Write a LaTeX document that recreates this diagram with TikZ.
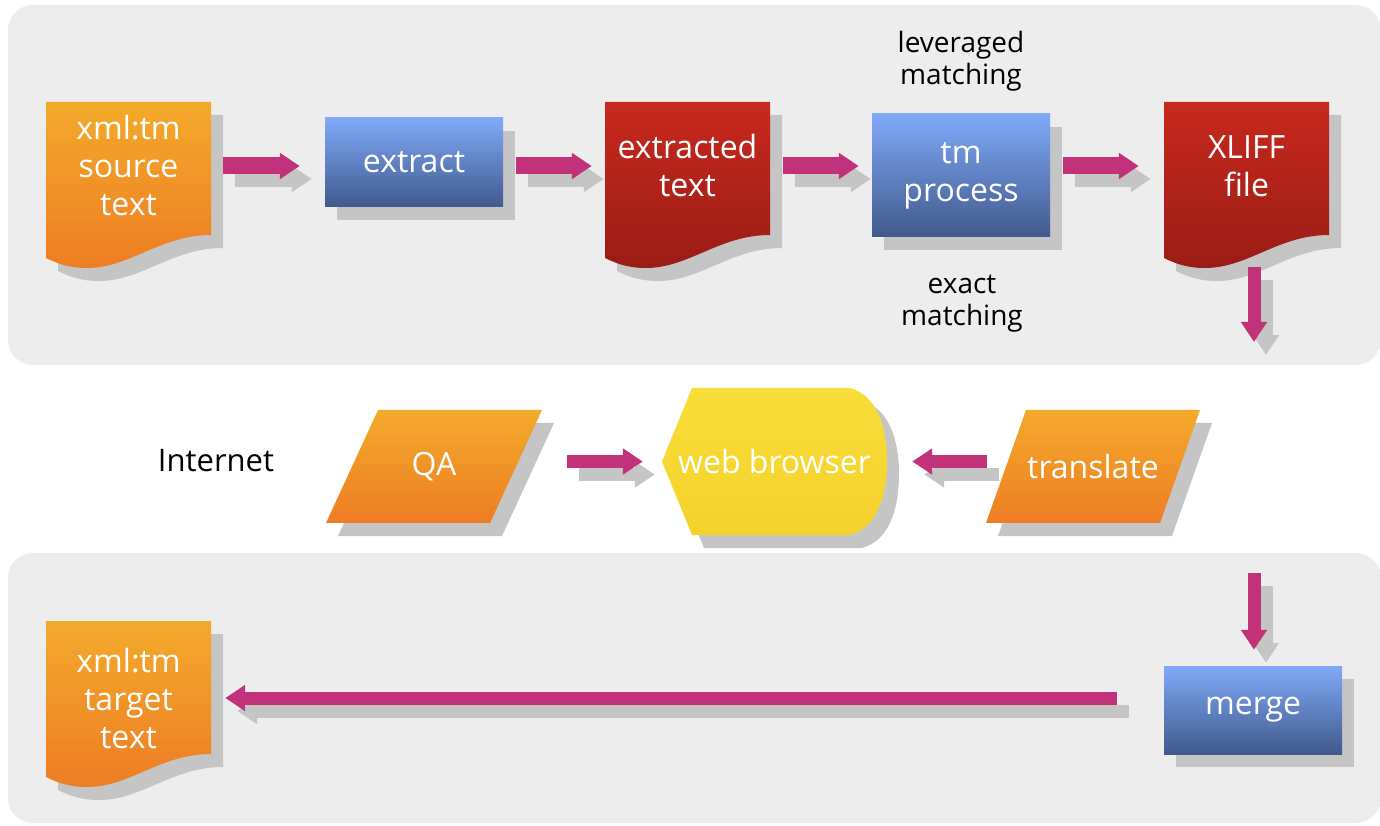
\documentclass[tikz,border=0pt]{standalone}
\usepackage{fontspec}
\setmainfont{Open Sans}
\usepackage{tikz}
\usetikzlibrary{shadows, arrows.meta}

\definecolor{panelgray}{HTML}{EDEDED}
\definecolor{shadowgray}{HTML}{C5C5C5}
\definecolor{flowpink}{HTML}{C2327A}
\definecolor{orangetop}{HTML}{F3AA2B}
\definecolor{orangebot}{HTML}{EE7D23}
\definecolor{redtop}{HTML}{C8291E}
\definecolor{redbot}{HTML}{9A1C15}
\definecolor{bluetop}{HTML}{80AAF9}
\definecolor{bluebot}{HTML}{40598C}
\definecolor{browseryellow}{HTML}{F5D12C}

\tikzset{
  shadowed/.style={drop shadow={shadow xshift=12pt, shadow yshift=-13pt, fill=shadowgray, opacity=1}},
  orangefill/.style={top color=orangetop, bottom color=orangebot},
  redfill/.style={top color=redtop, bottom color=redbot},
  whitetext/.style={text=white, font=\fontsize{32}{38}\selectfont, align=center},
  notetext/.style={font=\fontsize{28}{32}\selectfont, align=center},
  bluebox/.style={shadowed, top color=bluetop, bottom color=bluebot, whitetext, minimum width=178pt, inner sep=0pt},
  flow/.style={draw=flowpink, line width=#1, -{Triangle[length=20pt,width=25pt]},
    preaction={draw=shadowgray, line width=#1, -{Triangle[length=20pt,width=25pt]},
      transform canvas={shift={(12pt,-13pt)}}}},
  flow/.default=17pt,
  slimflow/.style={flow=13pt},
}

% document with a wavy lower edge: name, left x, top y, centre y, fill, text
\newcommand{\docnode}[6]{%
  \shade[shadowed, #5] (#2,#3) -- (#2+165,#3) -- (#2+165,#3-133)
    .. controls (#2+114,#3-133) and (#2+84,#3-166) .. (#2+41,#3-166)
    .. controls (#2+24,#3-166) and (#2+12,#3-162) .. (#2,#3-156) -- cycle;
  \node[whitetext, minimum width=165pt, minimum height={2*(#3-#4)}] (#1) at (#2+82.5,#4) {#6};
}

% slanted input box: name, centre x, centre y, half width, half slant, text
\newcommand{\slantnode}[6]{%
  \shade[shadowed, orangefill] (#2-#4+#5,#3+56.5) -- (#2+#4+#5,#3+56.5)
    -- (#2+#4-#5,#3-56.5) -- (#2-#4-#5,#3-56.5) -- cycle;
  \node[whitetext, minimum width={2*#4}, minimum height=113pt] (#1) at (#2,#3) {#6};
}

\begin{document}
\begin{tikzpicture}[x=1pt, y=1pt]
\useasboundingbox (0,0) rectangle (1380,825);

\fill[panelgray, rounded corners=25pt] (8,460) rectangle (1381,820);
\fill[panelgray, rounded corners=25pt] (8,2) rectangle (1381,272);

\docnode{source}{46}{723}{659}{orangefill}{xml:tm\\source\\text}
\node[bluebox, minimum height=89pt] (extract) at (414,662.5) {extract};
\docnode{extracted}{605}{723}{659}{redfill}{extracted\\text}
\node[bluebox, minimum height=123pt] (tm) at (961,649.5) {tm\\process};
\docnode{xliff}{1164}{723}{659}{redfill}{XLIFF\\file}

\node[notetext] (leveraged) at (961,764) {leveraged\\matching};
\node[notetext] (exact) at (962,521.5) {exact\\matching};

\node[font=\fontsize{31}{36}\selectfont] (internet) at (216,364) {Internet};

\slantnode{qa}{434}{358.5}{82}{26}{QA}
\shade[
    shadowed,
    top color=browseryellow!80!yellow!90!white,
    bottom color=browseryellow
  ] (662,363.5) -- (692,437) -- (850,437)
  .. controls (876,430) and (887,400) .. (887,363.5)
  .. controls (887,327) and (876,297) .. (850,290) -- (692,290) -- cycle;
\node[whitetext, minimum width=225pt, minimum height=147pt] (browser) at (774.5,363.5) {web browser};
\slantnode{translate}{1093}{358.5}{87}{20}{translate}

\docnode{target}{46}{204}{127}{orangefill}{xml:tm\\target\\text}
\node[bluebox, minimum height=88pt] (merge) at (1253,115) {merge};

\coordinate (drop1) at (1254,483);
\coordinate (drop2) at (1254,252);

\draw[flow, shorten <=12pt, shorten >=25pt] (source.east) -- (source.east -| extract.west);
\draw[flow, shorten <=13pt, shorten >=13pt] (extract.east |- extracted.west) -- (extracted.west);
\draw[flow, shorten <=13pt, shorten >=13pt] (extracted.east) -- (extracted.east -| tm.west);
\draw[flow, shorten <=13pt, shorten >=25pt] (tm.east |- xliff.west) -- (xliff.west);
\draw[slimflow, shorten <=37pt] (drop1 |- xliff.south) -- (drop1);

\draw[slimflow, shorten <=51pt, shorten >=19pt] (qa.east |- browser.west) -- (browser.west);
\draw[slimflow, shorten <=19pt, shorten >=25pt] (translate.west |- browser.east) -- (browser.east);

\draw[slimflow, shorten >=16pt] (drop2) -- (drop2 |- merge.north);
\draw[slimflow, shorten <=47pt, shorten >=14pt] (merge.west |- target.east) -- (target.east);
\end{tikzpicture}
\end{document}
